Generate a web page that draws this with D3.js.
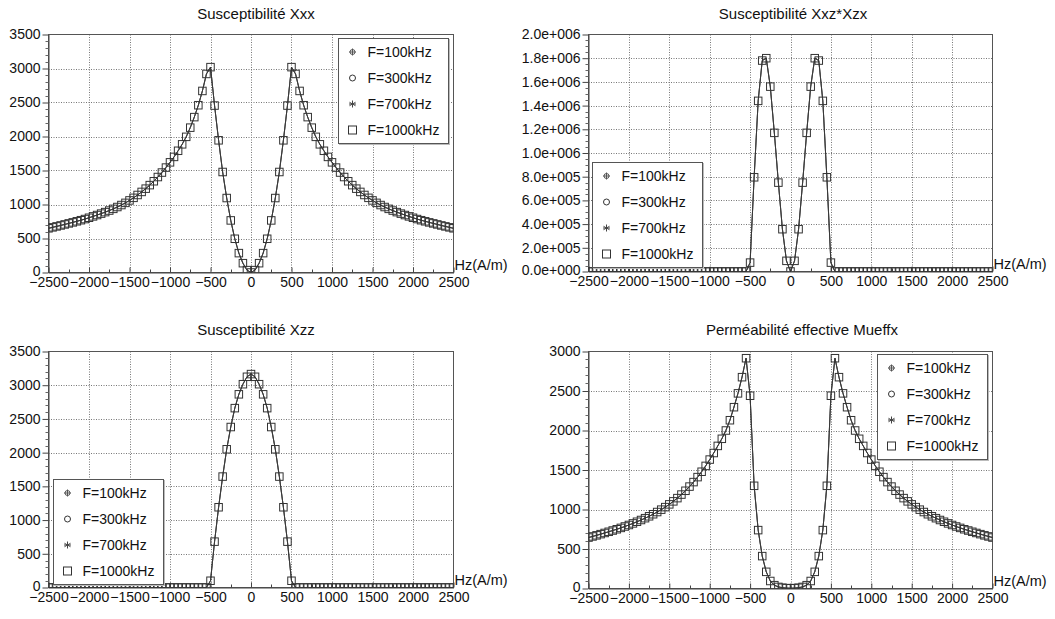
<!DOCTYPE html>
<html><head><meta charset="utf-8">
<script src="https://cdn.jsdelivr.net/npm/d3@7"></script>
<style>
html,body{margin:0;padding:0;background:#fff;}
svg text{font-family:"Liberation Sans",Arial,Helvetica,sans-serif;fill:#111;}
</style></head>
<body>
<svg id="chart" width="1055" height="619"></svg>
<script>
// ---------- DATA ----------
const hz = [-2500,-2450,-2400,-2350,-2300,-2250,-2200,-2150,-2100,-2050,-2000,
 -1950,-1900,-1850,-1800,-1750,-1700,-1650,-1600,-1550,-1500,
 -1450,-1400,-1350,-1300,-1250,-1200,-1150,-1100,-1050,-1000,
 -950,-900,-850,-800,-750,-700,-650,-600,-550,-500,
 -450,-400,-350,-300,-250,-200,-150,-100,-50,0,
 50,100,150,200,250,300,350,400,450,500,
 550,600,650,700,750,800,850,900,950,1000,
 1050,1100,1150,1200,1250,1300,1350,1400,1450,1500,
 1550,1600,1650,1700,1750,1800,1850,1900,1950,2000,
 2050,2100,2150,2200,2250,2300,2350,2400,2450,2500];

const seriesNames = ["F=100kHz","F=300kHz","F=700kHz","F=1000kHz"];
const seriesMarkers = ["crosscircle","circle","asterisk","square"];

const xxx = [650,664,678,692,707,722,737,753,769,786,805,
 825,845,866,888,911,936,963,992,1024,1060,
 1098,1140,1185,1233,1285,1342,1404,1470,1543,1620,
 1700,1790,1885,1995,2130,2285,2460,2670,2920,3020,
 2455,1944,1478,1095,766,496,285,137,35,0,
 35,137,285,496,766,1095,1478,1944,2455,3020,
 2920,2670,2460,2285,2130,1995,1885,1790,1700,1620,
 1543,1470,1404,1342,1285,1233,1185,1140,1098,1060,
 1024,992,963,936,911,888,866,845,825,805,
 786,769,753,737,722,707,692,678,664,650];

const xxzXzx = [0,0,0,0,0,0,0,0,0,0,0,
 0,0,0,0,0,0,0,0,0,0,
 0,0,0,0,0,0,0,0,0,0,
 0,0,0,0,0,0,0,0,0,75000,
 795000,1440000,1780000,1800000,1560000,1170000,750000,357000,90000,0,
 90000,357000,750000,1170000,1560000,1800000,1780000,1440000,795000,75000,
 0,0,0,0,0,0,0,0,0,0,
 0,0,0,0,0,0,0,0,0,0,
 0,0,0,0,0,0,0,0,0,0,
 0,0,0,0,0,0,0,0,0,0];

const xzz = [0,0,0,0,0,0,0,0,0,0,0,
 0,0,0,0,0,0,0,0,0,0,
 0,0,0,0,0,0,0,0,0,0,
 0,0,0,0,0,0,0,0,0,100,
 680,1190,1645,2050,2380,2660,2865,3015,3125,3165,
 3125,3015,2865,2660,2380,2050,1645,1190,680,100,
 0,0,0,0,0,0,0,0,0,0,
 0,0,0,0,0,0,0,0,0,0,
 0,0,0,0,0,0,0,0,0,0,
 0,0,0,0,0,0,0,0,0,0];

const mueffx = [645,659,673,688,703,718,734,750,767,785,804,
 824,845,867,890,914,940,968,998,1030,1065,
 1103,1144,1189,1237,1290,1347,1410,1478,1552,1632,
 1715,1805,1895,2000,2130,2295,2470,2675,2915,2440,
 1300,739,410,211,95,42,20,10,5,3,
 5,10,20,42,95,211,410,739,1300,2440,
 2915,2675,2470,2295,2130,2000,1895,1805,1715,1632,
 1552,1478,1410,1347,1290,1237,1189,1144,1103,1065,
 1030,998,968,940,914,890,867,845,824,804,
 785,767,750,734,718,703,688,673,659,645];

const xTicks = [-2500,-2000,-1500,-1000,-500,0,500,1000,1500,2000,2500];
const xTickLabels = ["\u22122500","\u22122000","\u22121500","\u22121000","\u2212500","0","500","1000","1500","2000","2500"];
const yTicks3500 = [0,500,1000,1500,2000,2500,3000,3500];
const yLabels3500 = ["0","500","1000","1500","2000","2500","3000","3500"];
const yTicks3000 = [0,500,1000,1500,2000,2500,3000];
const yLabels3000 = ["0","500","1000","1500","2000","2500","3000"];
const yTicksE = [0,200000,400000,600000,800000,1000000,1200000,1400000,1600000,1800000,2000000];
const yLabelsE = ["0.0e+000","2.0e+005","4.0e+005","6.0e+005","8.0e+005","1.0e+006","1.2e+006","1.4e+006","1.6e+006","1.8e+006","2.0e+006"];
const xUnit = "Hz(A/m)";

// ---------- LAYOUT ----------
const panels = [
 {title:"Susceptibilité Xxx", tx:256, ty:19, l:48.5, r:453.5, t:34.5, b:272.5,
  yMax:3500, yt:yTicks3500, yl:yLabels3500, minor:100, vals:xxx, leg:{x:338.5,y:38.5}},
 {title:"Susceptibilité Xxz*Xzx", tx:793, ty:19, l:588.5, r:992.5, t:34.5, b:271.5,
  yMax:2000000, yt:yTicksE, yl:yLabelsE, minor:50000, vals:xxzXzx, leg:{x:592.5,y:162.5}},
 {title:"Susceptibilité Xzz", tx:256, ty:335, l:48.5, r:453.5, t:351.5, b:587.5,
  yMax:3500, yt:yTicks3500, yl:yLabels3500, minor:100, vals:xzz, leg:{x:53.5,y:479.5}},
 {title:"Perméabilité effective Mueffx", tx:802, ty:335, l:588.5, r:992.5, t:351.5, b:588.5,
  yMax:3000, yt:yTicks3000, yl:yLabels3000, minor:100, vals:mueffx, leg:{x:877.5,y:354.5}}
];

const svg = d3.select("#chart");
const ink = "#333";

function drawMarker(g, type, cx, cy, s){
  if(type==="square"){
    g.append("rect").attr("x",cx-s/2).attr("y",cy-s/2).attr("width",s).attr("height",s)
     .attr("fill","none").attr("stroke",ink).attr("stroke-width",1);
  } else if(type==="circle"){
    g.append("circle").attr("cx",cx).attr("cy",cy).attr("r",s/2-0.5)
     .attr("fill","none").attr("stroke",ink).attr("stroke-width",1);
  } else if(type==="crosscircle"){
    g.append("circle").attr("cx",cx).attr("cy",cy).attr("r",s/2-1)
     .attr("fill","none").attr("stroke","#555").attr("stroke-width",1);
    g.append("path").attr("d",`M${cx-s/2},${cy}H${cx+s/2}M${cx},${cy-s/2}V${cy+s/2}`)
     .attr("stroke","#555").attr("stroke-width",1);
  } else if(type==="asterisk"){
    const r=s/2;
    let d="";
    for(let k=0;k<3;k++){
      const a=Math.PI/2 + k*Math.PI/3;
      d+=`M${cx+r*Math.cos(a)},${cy+r*Math.sin(a)}L${cx-r*Math.cos(a)},${cy-r*Math.sin(a)}`;
    }
    d+=`M${cx-r},${cy}H${cx+r}`;
    g.append("path").attr("d",d).attr("stroke","#444").attr("stroke-width",1);
  }
}

panels.forEach((p,pi)=>{
  const x = d3.scaleLinear().domain([-2500,2500]).range([p.l,p.r]);
  const y = d3.scaleLinear().domain([0,p.yMax]).range([p.b,p.t]);
  const g = svg.append("g");

  const cid = "clip"+pi;
  svg.append("clipPath").attr("id",cid).append("rect")
    .attr("x",p.l).attr("y",p.t).attr("width",p.r-p.l).attr("height",p.b-p.t);

  // grid
  g.selectAll(".gx").data(xTicks.slice(1,-1)).join("line")
    .attr("x1",d=>Math.round(x(d))+0.5).attr("x2",d=>Math.round(x(d))+0.5)
    .attr("y1",p.t).attr("y2",p.b)
    .attr("stroke","#777").attr("stroke-width",1).attr("stroke-dasharray","1,1.5");
  g.selectAll(".gy").data(p.yt.slice(1,-1)).join("line")
    .attr("y1",d=>Math.round(y(d))+0.5).attr("y2",d=>Math.round(y(d))+0.5)
    .attr("x1",p.l).attr("x2",p.r)
    .attr("stroke","#777").attr("stroke-width",1).attr("stroke-dasharray","1,1.5");

  // frame
  g.append("rect").attr("x",p.l).attr("y",p.t).attr("width",p.r-p.l).attr("height",p.b-p.t)
    .attr("fill","none").attr("stroke","#555").attr("stroke-width",1);

  // x axis
  const xAxis = d3.axisBottom(x).tickValues(xTicks).tickFormat((d,i)=>xTickLabels[i])
    .tickSizeInner(-5).tickSizeOuter(0).tickPadding(5);
  const xa = g.append("g").attr("transform",`translate(0,${p.b})`).call(xAxis);
  xa.select(".domain").attr("stroke","#444");
  xa.selectAll(".tick line").attr("stroke","#444");
  xa.selectAll("text").attr("font-size",14).attr("fill","#111")
    .attr("font-family",'"Liberation Sans",Arial,sans-serif');
  const xMinor = d3.range(-2250,2500,500);
  g.selectAll(".mx").data(xMinor).join("line")
    .attr("x1",d=>Math.round(x(d))+0.5).attr("x2",d=>Math.round(x(d))+0.5)
    .attr("y1",p.b).attr("y2",p.b-3).attr("stroke","#444");

  // y axis
  const yAxis = d3.axisLeft(y).tickValues(p.yt).tickFormat((d,i)=>p.yl[i])
    .tickSizeInner(6).tickSizeOuter(0).tickPadding(2);
  const ya = g.append("g").attr("transform",`translate(${p.l},0)`).call(yAxis);
  ya.select(".domain").attr("stroke","#444");
  ya.selectAll(".tick line").attr("stroke","#444");
  ya.selectAll("text").attr("font-size",14).attr("fill","#111")
    .attr("font-family",'"Liberation Sans",Arial,sans-serif');
  // lift the bottom label slightly so it clears the x labels
  ya.selectAll(".tick").filter(d=>d===0).select("text").attr("dy","0.2em");
  const yMinor = d3.range(0,p.yMax,p.minor).filter(v=>p.yt.indexOf(v)<0);
  g.selectAll(".my").data(yMinor).join("line")
    .attr("y1",d=>Math.round(y(d))+0.5).attr("y2",d=>Math.round(y(d))+0.5)
    .attr("x1",p.l).attr("x2",p.l-3).attr("stroke","#666");

  // title
  g.append("text").attr("x",p.tx).attr("y",p.ty).attr("text-anchor","middle")
    .attr("font-size",15).text(p.title);
  g.append("text").attr("x",p.r+1).attr("y",p.b-3).attr("font-size",14.5).text(xUnit);

  // series
  const pts = hz.map((h,i)=>({h, v:p.vals[i]}));
  const plot = g.append("g").attr("clip-path",`url(#${cid})`);
  const line = d3.line().x(d=>x(d.h)).y(d=>y(d.v));
  seriesNames.forEach((s,si)=>{
    plot.append("path").datum(pts).attr("d",line).attr("fill","none")
      .attr("stroke","#333").attr("stroke-width",0.6);
  });
  const mk = plot.append("g");
  pts.forEach(d=>drawMarker(mk,"square",x(d.h),y(d.v),7.5));

  // legend
  const lg = g.append("g");
  lg.append("rect").attr("x",p.leg.x+1).attr("y",p.leg.y+1).attr("width",110).attr("height",105)
    .attr("fill","none").attr("stroke","#bbb");
  lg.append("rect").attr("x",p.leg.x).attr("y",p.leg.y).attr("width",110).attr("height",105)
    .attr("fill","#fff").attr("stroke","#555");
  seriesNames.forEach((s,si)=>{
    const cy = p.leg.y+13.5+si*26;
    drawMarker(lg, seriesMarkers[si], p.leg.x+14, cy, si===3?8:7);
    lg.append("text").attr("x",p.leg.x+29).attr("y",cy).attr("dy","0.36em")
      .attr("font-size",14).text(s);
  });
});
</script>
</body></html>
